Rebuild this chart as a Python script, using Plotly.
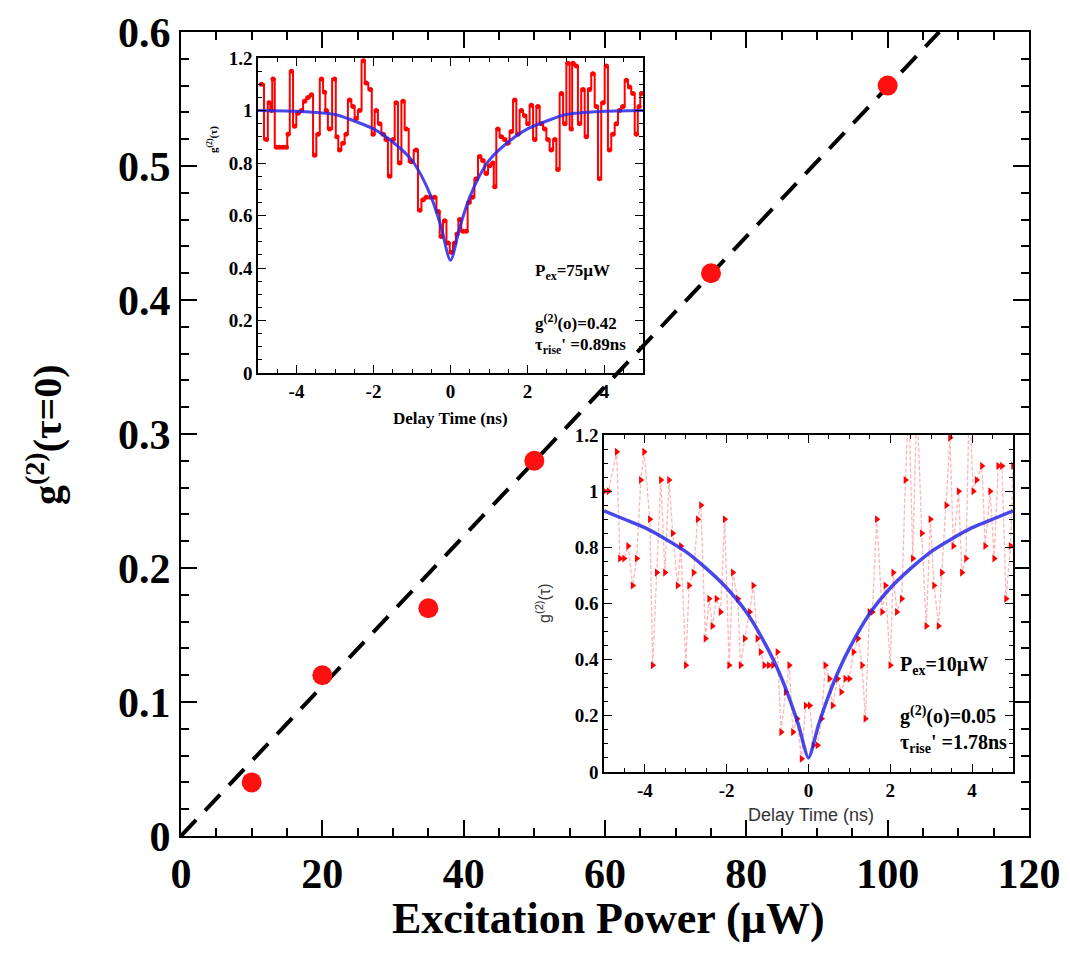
import plotly.graph_objects as go

# ---------------- data ----------------
# main panel
power_uW = [10, 20, 35, 50, 75, 100]
g2_zero = [0.04, 0.12, 0.17, 0.28, 0.42, 0.56]
guide_power = [0, 107.3]
guide_g2 = [0, 0.6]

# inset 1 : P_ex = 75 uW
tau_75 = [-4.91, -4.78, -4.71, -4.65, -4.61, -4.52, -4.44, -4.35, -4.26, -4.22, -4.13, -4.05,
          -3.96, -3.87, -3.79, -3.70, -3.61, -3.53, -3.44, -3.35, -3.27, -3.23, -3.14, -3.01,
          -2.95, -2.88, -2.79, -2.71, -2.62, -2.53, -2.45, -2.36, -2.26, -2.19, -2.08, -2.01,
          -1.93, -1.84, -1.75, -1.67, -1.58, -1.49, -1.41, -1.32, -1.23, -1.15, -1.02, -0.89,
          -0.80, -0.71, -0.63, -0.52, -0.41, -0.32, -0.24, -0.15, -0.06, 0.02, 0.11, 0.17,
          0.24, 0.32, 0.41, 0.48, 0.57, 0.67, 0.76, 0.84, 0.93, 1.02, 1.10, 1.15,
          1.23, 1.32, 1.41, 1.49, 1.58, 1.67, 1.75, 1.84, 1.93, 2.01, 2.10, 2.19,
          2.27, 2.36, 2.45, 2.53, 2.62, 2.71, 2.79, 2.88, 2.97, 3.05, 3.14, 3.18,
          3.27, 3.35, 3.44, 3.53, 3.61, 3.70, 3.79, 3.87, 3.96, 4.05, 4.13, 4.22,
          4.31, 4.39, 4.48, 4.57, 4.65, 4.74, 4.83, 4.90, 4.96]
g2_75 = [1.10, 0.89, 1.03, 1.00, 1.12, 0.86, 0.86, 0.86, 0.86, 0.91, 1.15, 0.94,
         0.99, 1.00, 1.035, 1.05, 1.06, 0.83, 0.91, 1.12, 1.07, 1.00, 0.93, 1.12,
         0.90, 0.85, 0.875, 0.91, 1.04, 1.015, 0.97, 1.00, 1.19, 1.105, 1.08, 0.91,
         1.00, 0.95, 0.91, 0.89, 0.75, 0.89, 1.03, 0.80, 1.035, 0.93, 0.805, 0.85,
         0.62, 0.66, 0.67, 0.67, 0.67, 0.615, 0.52, 0.58, 0.495, 0.46, 0.495, 0.53,
         0.585, 0.54, 0.54, 0.65, 0.67, 0.74, 0.825, 0.81, 0.76, 0.79, 0.80, 0.71,
         0.93, 0.90, 0.89, 0.875, 0.92, 1.04, 0.91, 1.00, 0.98, 0.95, 1.02, 0.89,
         1.015, 0.95, 0.93, 0.89, 0.85, 0.89, 0.775, 1.065, 0.95, 1.18, 0.93, 1.18,
         1.17, 0.95, 1.08, 0.90, 1.08, 1.14, 1.015, 0.74, 1.03, 1.17, 0.85, 0.91,
         0.95, 1.00, 1.015, 1.115, 1.09, 1.065, 0.91, 1.015, 1.065]
fit_tau_75 = [-5, -4, -3, -2.5, -2, -1.5, -1, -0.75, -0.5, -0.25, 0,
              0.25, 0.5, 0.75, 1, 1.5, 2, 2.5, 3, 4, 5]
fit_g2_75 = [1.0, 0.997, 0.985, 0.96, 0.93, 0.88, 0.81, 0.75, 0.67, 0.56, 0.43,
             0.56, 0.67, 0.75, 0.81, 0.88, 0.93, 0.96, 0.985, 0.997, 1.0]

# inset 2 : P_ex = 10 uW
tau_10 = [-4.99, -4.89, -4.69, -4.61, -4.51, -4.41, -4.30, -4.20, -4.10, -4.02, -3.88, -3.81,
          -3.71, -3.61, -3.51, -3.41, -3.32, -3.20, -3.12, -3.00, -2.92, -2.81, -2.71, -2.63,
          -2.52, -2.43, -2.35, -2.25, -2.15, -2.05, -1.94, -1.85, -1.73, -1.66, -1.56, -1.44,
          -1.35, -1.25, -1.17, -1.08, -0.97, -0.87, -0.76, -0.67, -0.56, -0.47, -0.38, -0.28,
          -0.17, -0.07, 0.03, 0.12, 0.22, 0.32, 0.41, 0.51, 0.59, 0.71, 0.80, 0.90,
          1.00, 1.10, 1.21, 1.31, 1.39, 1.49, 1.56, 1.67, 1.80, 1.88, 2.00, 2.07,
          2.16, 2.28, 2.37, 2.45, 2.55, 2.65, 2.77, 2.88, 2.98, 3.07, 3.18, 3.26,
          3.37, 3.46, 3.54, 3.67, 3.75, 3.85, 3.93, 4.03, 4.11, 4.24, 4.32, 4.44,
          4.54, 4.64, 4.73, 4.83, 4.94, 5.00]
g2_10 = [1.0, 1.0, 1.14, 0.76, 0.76, 0.805, 0.664, 0.76, 1.04, 1.14, 0.90, 0.38,
         0.71, 1.04, 0.71, 1.04, 0.85, 0.664, 0.805, 0.38, 0.664, 0.71, 0.90, 0.95,
         0.475, 0.617, 0.52, 0.617, 0.57, 0.90, 0.38, 0.71, 0.617, 0.38, 0.475, 0.57,
         0.664, 0.475, 0.427, 0.38, 0.38, 0.38, 0.427, 0.142, 0.285, 0.38, 0.142, 0.19,
         0.047, 0.237, 0.237, 0.095, 0.095, 0.19, 0.38, 0.332, 0.237, 0.332, 0.285, 0.332,
         0.332, 0.427, 0.475, 0.38, 0.19, 0.57, 0.57, 0.90, 0.57, 0.664, 0.38, 0.71,
         0.57, 0.617, 1.04, 1.33, 0.76, 1.33, 0.85, 0.52, 0.90, 0.664, 0.52, 0.71,
         0.95, 1.19, 0.805, 1.0, 0.71, 0.76, 1.33, 1.0, 1.04, 1.09, 0.805, 1.0,
         0.76, 1.09, 1.09, 0.617, 0.805, 1.09]
fit_tau_10 = [-5, -4.5, -4, -3.5, -3, -2.5, -2, -1.5, -1, -0.75, -0.5, -0.25, 0,
              0.25, 0.5, 0.75, 1, 1.5, 2, 2.5, 3, 3.5, 4, 4.5, 5]
fit_g2_10 = [0.93, 0.90, 0.87, 0.83, 0.785, 0.725, 0.655, 0.565, 0.44, 0.365, 0.275, 0.17, 0.05,
             0.17, 0.275, 0.365, 0.44, 0.565, 0.655, 0.725, 0.785, 0.83, 0.87, 0.90, 0.93]

inset_x_ticks = [-4, -2, 0, 2, 4]
inset_x_labels = ["-4", "-2", "0", "2", "4"]
inset_y_ticks = [0, 0.2, 0.4, 0.6, 0.8, 1.0, 1.2]
inset_y_labels = ["0", "0.2", "0.4", "0.6", "0.8", "1", "1.2"]

# ---------------- figure ----------------
# The page body has an 8 px margin; the figure fills the remaining area.
PAD = 8
W, H = 1070 - 2 * PAD, 953 - 2 * PAD


def fx(p):
    return (p - PAD) / W


def fy(p):
    return 1 - (p - PAD) / H


SERIF = "Liberation Serif"
fig = go.Figure()

# main panel
fig.add_trace(go.Scatter(x=guide_power, y=guide_g2, mode="lines",
                         line=dict(color="black", width=4, dash="22px,13px"),
                         xaxis="x", yaxis="y", showlegend=False, hoverinfo="skip"))
fig.add_trace(go.Scatter(x=power_uW, y=g2_zero, mode="markers",
                         marker=dict(color="#ff1010", size=20, line=dict(width=0)),
                         xaxis="x", yaxis="y", showlegend=False))

# inset 1
fig.add_trace(go.Scatter(x=tau_75, y=g2_75, mode="lines+markers", line_shape="hvh",
                         line=dict(color="#ff0000", width=2),
                         marker=dict(color="#ff0000", size=5, symbol="circle"),
                         xaxis="x2", yaxis="y2", showlegend=False))
fig.add_trace(go.Scatter(x=fit_tau_75, y=fit_g2_75, mode="lines", line_shape="spline",
                         line=dict(color="rgba(40,40,230,0.85)", width=3, smoothing=0.8),
                         xaxis="x2", yaxis="y2", showlegend=False))

# inset 2
fig.add_trace(go.Scatter(x=tau_10, y=g2_10, mode="lines+markers",
                         line=dict(color="rgba(255,70,70,0.4)", width=1.3, dash="4px,2px"),
                         marker=dict(color="#ff0000", size=7, symbol="triangle-right"),
                         xaxis="x3", yaxis="y3", showlegend=False))
fig.add_trace(go.Scatter(x=fit_tau_10, y=fit_g2_10, mode="lines", line_shape="spline",
                         line=dict(color="rgba(40,40,230,0.85)", width=3.5, smoothing=0.6),
                         xaxis="x3", yaxis="y3", showlegend=False))

main_tickfont = dict(family=SERIF, size=42, color="black", weight="bold")
ax_common = dict(showline=True, linecolor="black", mirror="ticks", ticks="inside",
                 showgrid=False, zeroline=False, automargin=False)

inset_font = dict(family=SERIF, size=19, color="black", weight="bold")
inset_common = dict(showline=True, linecolor="black", linewidth=1.5, mirror="ticks",
                    ticks="inside", ticklen=8, tickwidth=1.3, tickcolor="black",
                    showgrid=False, zeroline=False, automargin=False, tickfont=inset_font)

fig.update_layout(
    width=W, height=H,
    margin=dict(l=0, r=0, t=0, b=0),
    paper_bgcolor="white", plot_bgcolor="rgba(0,0,0,0)",
    font=dict(family=SERIF, color="black"),
    xaxis=dict(domain=[fx(181), fx(1029)], range=[0, 120], anchor="y",
               dtick=20, tick0=0, ticklen=16, tickwidth=2, linewidth=2, tickcolor="black",
               minor=dict(dtick=5, ticks="inside", ticklen=8, tickwidth=1.5, tickcolor="black"),
               tickfont=main_tickfont, **ax_common),
    yaxis=dict(domain=[fy(836), fy(32)], range=[0, 0.6], anchor="x",
               dtick=0.1, tick0=0, ticklen=16, tickwidth=2, linewidth=2, tickcolor="black",
               minor=dict(dtick=0.02, ticks="inside", ticklen=8, tickwidth=1.5, tickcolor="black"),
               tickfont=main_tickfont, **ax_common),
    xaxis2=dict(domain=[fx(258), fx(643)], range=[-5, 5], anchor="y2",
                tickvals=inset_x_ticks, ticktext=inset_x_labels,
                minor=dict(dtick=0.5, ticks="inside", ticklen=4, tickwidth=1, tickcolor="black"),
                **inset_common),
    yaxis2=dict(domain=[fy(373), fy(58)], range=[0, 1.2], anchor="x2",
                tickvals=inset_y_ticks, ticktext=inset_y_labels,
                minor=dict(dtick=0.05, ticks="inside", ticklen=4, tickwidth=1, tickcolor="black"),
                **inset_common),
    xaxis3=dict(domain=[fx(604), fx(1013)], range=[-5, 5], anchor="y3",
                tickvals=inset_x_ticks, ticktext=inset_x_labels,
                minor=dict(dtick=0.5, ticks="inside", ticklen=4, tickwidth=1, tickcolor="black"),
                **inset_common),
    yaxis3=dict(domain=[fy(772), fy(435)], range=[0, 1.2], anchor="x3",
                tickvals=inset_y_ticks, ticktext=inset_y_labels,
                minor=dict(dtick=0.05, ticks="inside", ticklen=4, tickwidth=1, tickcolor="black"),
                **inset_common),
)


def note(text, x, y, size, xanchor="center", angle=0, family=SERIF, weight="bold", color="black"):
    fig.add_annotation(text=text, x=fx(x), y=fy(y), xref="paper", yref="paper",
                       showarrow=False, xanchor=xanchor, yanchor="middle", textangle=angle,
                       font=dict(family=family, size=size, color=color, weight=weight))


# main titles
note("Excitation Power (µW)", 608, 918, 44)
note("g<sup>(2)</sup>(τ=0)", 44, 435, 40, angle=-90)

# inset 1 texts
note("Delay Time (ns)", 450, 418, 17)
note("g<sup>(2)</sup>(τ)", 212, 140, 11, angle=-90)
note("P<sub>ex</sub>=75µW", 533, 272, 17, xanchor="left")
note("g<sup>(2)</sup>(o)=0.42", 533, 322, 17, xanchor="left")
note("τ<sub>rise</sub>' =0.89ns", 533, 346, 17, xanchor="left")

# inset 2 texts
note("Delay Time (ns)", 811, 815, 18, family="Liberation Sans", weight="normal", color="#333333")
note("g<sup>(2)</sup>(τ)", 543, 603, 16, angle=-90, family="Liberation Sans", weight="normal", color="#333333")
note("P<sub>ex</sub>=10µW", 898, 665, 20, xanchor="left")
note("g<sup>(2)</sup>(o)=0.05", 898, 715, 20, xanchor="left")
note("τ<sub>rise</sub>' =1.78ns", 898, 743, 20, xanchor="left")

fig.write_html("out.html")
